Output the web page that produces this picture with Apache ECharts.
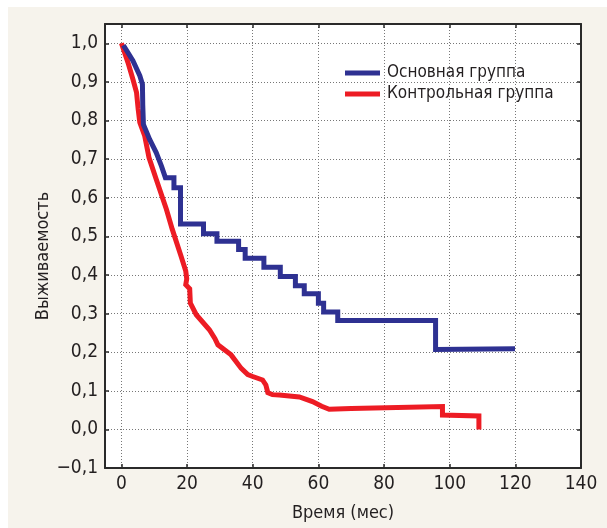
<!DOCTYPE html>
<html><head><meta charset="utf-8">
<script src="https://cdn.jsdelivr.net/npm/echarts@6/dist/echarts.min.js"></script>
<style>
html,body{margin:0;padding:0;background:#fff;}
#bg{position:absolute;left:8px;top:7px;width:599px;height:521px;background:#f6f3ec;}
#chart{position:absolute;left:0;top:0;width:607px;height:528px;}
</style></head><body>
<div id="bg"></div><div id="chart"></div>
<script>
const xTicks = [0, 20, 40, 60, 80, 100, 120, 140];
const yTicks = [-0.1, 0, 0.1, 0.2, 0.3, 0.4, 0.5, 0.6, 0.7, 0.8, 0.9, 1.0];

const blueName = 'Основная группа';
const blueTime = [0.6, 1, 3.5, 5.6, 6.4, 6.5, 6.7, 8.6, 10.6, 12.2, 13.4, 16, 16, 18, 18, 25, 25, 29.1, 29.1, 35.7, 35.7, 37.7, 37.7, 43.4, 43.4, 48.4, 48.4, 53, 53, 55.7, 55.7, 60, 60, 61.6, 61.6, 65.9, 65.9, 95.7, 95.7, 119.9];
const blueSurv = [0.995, 0.99, 0.955, 0.916, 0.894, 0.84, 0.79, 0.751, 0.717, 0.682, 0.652, 0.652, 0.626, 0.626, 0.532, 0.532, 0.507, 0.507, 0.487, 0.487, 0.466, 0.466, 0.443, 0.443, 0.42, 0.42, 0.396, 0.396, 0.372, 0.372, 0.351, 0.351, 0.327, 0.327, 0.304, 0.304, 0.282, 0.282, 0.207, 0.209];

const redName = 'Контрольная группа';
const redTime = [0, 2, 3.5, 4.6, 5.1, 5.6, 7.1, 8.4, 10.6, 13.7, 15.5, 18.2, 19.6, 19.9, 19.6, 20.8, 21, 22.8, 26.8, 28.5, 29.4, 33.4, 36.5, 38.5, 40, 43, 44, 44.6, 46, 48.1, 54.2, 58.2, 61, 63.3, 70, 97.8, 97.8, 108.9, 108.9];
const redSurv = [1.0, 0.95, 0.907, 0.873, 0.83, 0.795, 0.76, 0.704, 0.648, 0.57, 0.518, 0.448, 0.41, 0.39, 0.375, 0.364, 0.327, 0.297, 0.258, 0.235, 0.219, 0.193, 0.158, 0.142, 0.137, 0.128, 0.115, 0.095, 0.09, 0.089, 0.084, 0.072, 0.06, 0.052, 0.054, 0.059, 0.037, 0.035, 0.0];

const FONT = "'Liberation Sans Narrow', 'DejaVu Sans Condensed', 'Roboto Condensed', sans-serif";
const AX = '#2a2a2a';
const fmtY = v => (v < 0 ? '\u2212' : '') + Math.abs(v).toFixed(1).replace('.', ',');

const pairs = (xs, ys) => xs.map((x, i) => [x, ys[i]]);

const chart = echarts.init(document.getElementById('chart'), null, {renderer: 'canvas'});
const frameAxis = (extra) => Object.assign({
  type: 'value',
  axisLine: {show: true, onZero: false, lineStyle: {color: AX, width: 2}},
  axisTick: {show: true, inside: true, length: 4, lineStyle: {color: AX, width: 1.5}},
  axisLabel: {show: false},
  splitLine: {show: false}
}, extra);

chart.setOption({
  backgroundColor: 'transparent',
  animation: false,
  grid: {left: 105, right: 26, top: 24, bottom: 60, show: true, backgroundColor: '#ffffff', borderWidth: 0},
  legend: {
    orient: 'vertical', left: 345, top: 63, padding: 0, icon: 'rect', itemWidth: 35, itemHeight: 5, itemGap: 1,
    textStyle: {fontFamily: FONT, fontSize: 17, color: '#231f20', lineHeight: 20, padding: [0, 0, 0, 2]},
    data: [blueName, redName]
  },
  xAxis: [
    frameAxis({
      position: 'bottom', min: -5, max: 140,
      axisTick: {show: true, inside: true, length: 4, customValues: xTicks, lineStyle: {color: AX, width: 1.5}},
      axisLabel: {show: true, customValues: xTicks, margin: 7, fontFamily: FONT, fontSize: 19, color: '#231f20'},
      splitLine: {show: true, lineStyle: {type: [1, 2], color: '#777', width: 1}},
      name: 'Время (мес)', nameLocation: 'middle', nameGap: 36,
      nameTextStyle: {fontFamily: FONT, fontSize: 18, color: '#231f20'}
    }),
    frameAxis({
      position: 'top', min: -5, max: 140,
      axisTick: {show: true, inside: true, length: 4, customValues: xTicks, lineStyle: {color: AX, width: 1.5}}
    })
  ],
  yAxis: [
    frameAxis({
      position: 'left', min: -0.1, max: 1.05,
      axisTick: {show: true, inside: true, length: 4, customValues: yTicks, lineStyle: {color: AX, width: 1.5}},
      axisLabel: {show: true, customValues: yTicks, margin: 7, formatter: fmtY, fontFamily: FONT, fontSize: 19, color: '#231f20'},
      splitLine: {show: true, lineStyle: {type: [1, 2], color: '#777', width: 1}},
      name: 'Выживаемость', nameLocation: 'middle', nameGap: 53, nameRotate: 90, nameMoveOverlap: false,
      nameTextStyle: {fontFamily: FONT, fontSize: 18, color: '#231f20', padding: [0, 20, 0, 0]}
    }),
    frameAxis({
      position: 'right', min: -0.1, max: 1.05,
      axisTick: {show: true, inside: true, length: 4, customValues: yTicks, lineStyle: {color: AX, width: 1.5}}
    })
  ],
  series: [
    {
      name: redName, type: 'line', xAxisIndex: 0, yAxisIndex: 0, showSymbol: false, symbol: 'none',
      data: pairs(redTime, redSurv), color: '#ed1c24',
      lineStyle: {color: '#ed1c24', width: 5, cap: 'butt', join: 'miter'}, z: 3
    },
    {
      name: blueName, type: 'line', xAxisIndex: 0, yAxisIndex: 0, showSymbol: false, symbol: 'none',
      data: pairs(blueTime, blueSurv), color: '#2e3192',
      lineStyle: {color: '#2e3192', width: 5, cap: 'butt', join: 'miter'}, z: 4
    }
  ]
});
</script>
</body></html>
